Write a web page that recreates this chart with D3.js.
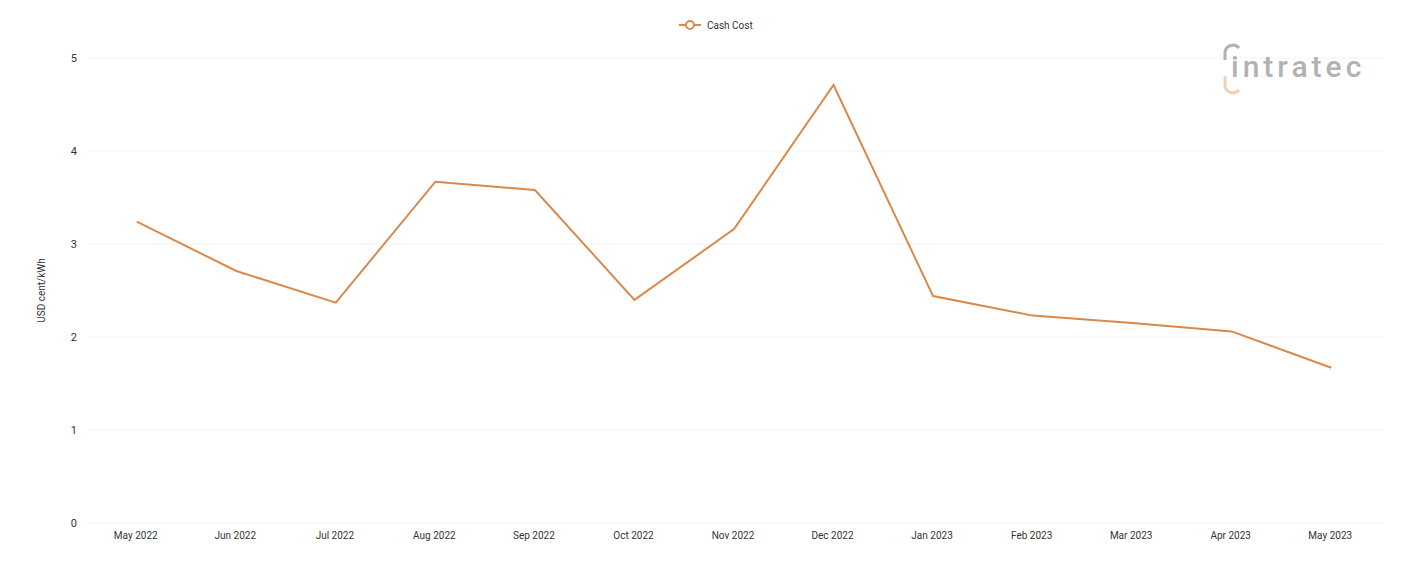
<!DOCTYPE html>
<html>
<head>
<meta charset="utf-8">
<script src="https://cdn.jsdelivr.net/npm/d3@7"></script>
<style>
body { margin: 0; background: #fff; font-family: Roboto, sans-serif; }
</style>
</head>
<body>
<svg id="chart" width="1401" height="561"></svg>
<script>
// chart data
var months = ["May 2022", "Jun 2022", "Jul 2022", "Aug 2022", "Sep 2022", "Oct 2022", "Nov 2022",
	"Dec 2022", "Jan 2023", "Feb 2023", "Mar 2023", "Apr 2023", "May 2023"];
var cashCost = [3.24, 2.71, 2.37, 3.67, 3.58, 2.40, 3.16, 4.71, 2.44, 2.23, 2.15, 2.06, 1.67];
var yTicks = [0, 1, 2, 3, 4, 5];
var seriesName = "Cash Cost";
var lineColor = "#d9894a";

var svg = d3.select("#chart");
var plotLeft = 88, plotRight = 1384, plotTop = 58, plotBottom = 523;

var x = d3.scaleBand().domain(months).range([plotLeft - 1, plotRight - 3]);
var y = d3.scaleLinear().domain([0, 5]).range([plotBottom, plotTop]);

// grid
svg.append("g").selectAll("line").data(yTicks).enter().append("line")
	.attr("x1", plotLeft).attr("x2", plotRight)
	.attr("y1", function(d) { return y(d); }).attr("y2", function(d) { return y(d); })
	.attr("stroke", "#f2f2f2").attr("stroke-width", 1);

// y labels
svg.append("g").selectAll("text").data(yTicks).enter().append("text")
	.attr("x", 77).attr("y", function(d) { return y(d) + 4; })
	.attr("text-anchor", "end").attr("font-size", 11).attr("fill", "#333")
	.text(function(d) { return d; });

// x labels
svg.append("g").selectAll("text").data(months).enter().append("text")
	.attr("x", function(d) { return x(d) + x.bandwidth() / 2 - 1; }).attr("y", 539)
	.attr("text-anchor", "middle").attr("font-size", 10).attr("fill", "#333")
	.text(function(d) { return d; });

svg.append("text")
	.attr("transform", "translate(45," + ((plotTop + plotBottom) / 2) + ") rotate(-90)")
	.attr("text-anchor", "middle").attr("font-size", 10).attr("fill", "#333")
	.text("USD cent/kWh");

// line
var line = d3.line()
	.x(function(d, i) { return x(months[i]) + x.bandwidth() / 2; })
	.y(function(d) { return y(d); });
svg.append("path").datum(cashCost).attr("d", line)
	.attr("fill", "none").attr("stroke", lineColor).attr("stroke-width", 2);

// legend
var lg = svg.append("g").attr("transform", "translate(679,25)");
lg.append("line").attr("x1", 0).attr("x2", 22).attr("stroke", lineColor).attr("stroke-width", 2);
lg.append("circle").attr("cx", 11).attr("r", 4).attr("fill", "#fff").attr("stroke", lineColor).attr("stroke-width", 2);
lg.append("text").attr("x", 28).attr("y", 4).attr("font-size", 10).attr("fill", "#333").text(seriesName);

// logo
var logo = svg.append("g").attr("transform", "translate(1222,44)").attr("opacity", 0.75);
logo.append("path").attr("d", "M3,16 L3,8 A8,8 0 0 1 17,4").attr("fill", "none").attr("stroke", "#999").attr("stroke-width", 3);
logo.append("path").attr("d", "M3,32 L3,40 A8,8 0 0 0 17,46").attr("fill", "none").attr("stroke", "#e8c4a3").attr("stroke-width", 3);
logo.append("text").attr("x", 9).attr("y", 33).attr("font-size", 30).attr("font-weight", 500)
	.attr("letter-spacing", 4)
	.attr("fill", "#999").attr("font-family", "Roboto, sans-serif").text("intratec");
</script>
</body>
</html>
